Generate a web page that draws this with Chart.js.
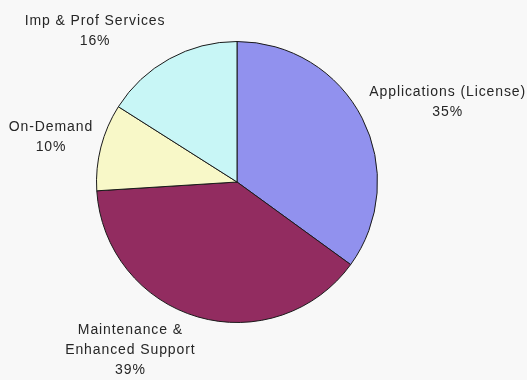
<!DOCTYPE html>
<html><head><meta charset="utf-8">
<script src="https://cdn.jsdelivr.net/npm/chart.js@4/dist/chart.umd.min.js"></script>
<style>
html,body{margin:0;padding:0;background:#f8f8f8;}
#wrap{width:527px;height:380px;position:relative;}
</style></head>
<body><div id="wrap"><canvas id="c" width="527" height="380"></canvas></div>
<script>
const categories = [["Applications (License)"], ["Maintenance &", "Enhanced Support"], ["On-Demand"], ["Imp & Prof Services"]];
const values = [35, 39, 10, 16];
const sliceColors = ["#9191ee", "#922c60", "#f8f8c8", "#c8f6f6"];

const labelPlugin = {
  id: 'outerLabels',
  afterDatasetsDraw(chart) {
    const ctx = chart.ctx;
    const meta = chart.getDatasetMeta(0);
    ctx.save();
    ctx.font = '14px "Liberation Sans", Arial, sans-serif';
    ctx.letterSpacing = '0.9px';
    ctx.fillStyle = '#262626';
    ctx.textBaseline = 'middle';
    const lh = 20;
    meta.data.forEach((arc, i) => {
      const mid = (arc.startAngle + arc.endAngle) / 2;
      const dx = Math.cos(mid), dy = Math.sin(mid);
      const pad = 8;
      const ax = arc.x + (arc.outerRadius + pad) * dx;
      const ay = arc.y + (arc.outerRadius + pad) * dy - 3;
      const lines = categories[i].concat([values[i] + '%']);
      const w = Math.max(...lines.map(l => ctx.measureText(l).width));
      const h = lines.length * lh;
      const left = dx >= 0 ? ax : ax - w;
      const cx = left + w / 2;
      const cy = ay + dy * h / 2;
      const top = cy - h / 2;
      ctx.textAlign = 'center';
      lines.forEach((l, k) => ctx.fillText(l, cx, top + lh / 2 + k * lh));
    });
    ctx.restore();
  }
};

new Chart(document.getElementById('c'), {
  type: 'pie',
  data: {
    labels: categories.map(c => c.join(' ')),
    datasets: [{
      data: values,
      backgroundColor: sliceColors,
      borderColor: '#1a1a1a',
      borderWidth: 1
    }]
  },
  options: {
    responsive: false,
    animation: false,
    layout: { padding: { top: 41, bottom: 57, left: 96, right: 149 } },
    plugins: { legend: { display: false }, tooltip: { enabled: false } }
  },
  plugins: [labelPlugin]
});
</script></body></html>
